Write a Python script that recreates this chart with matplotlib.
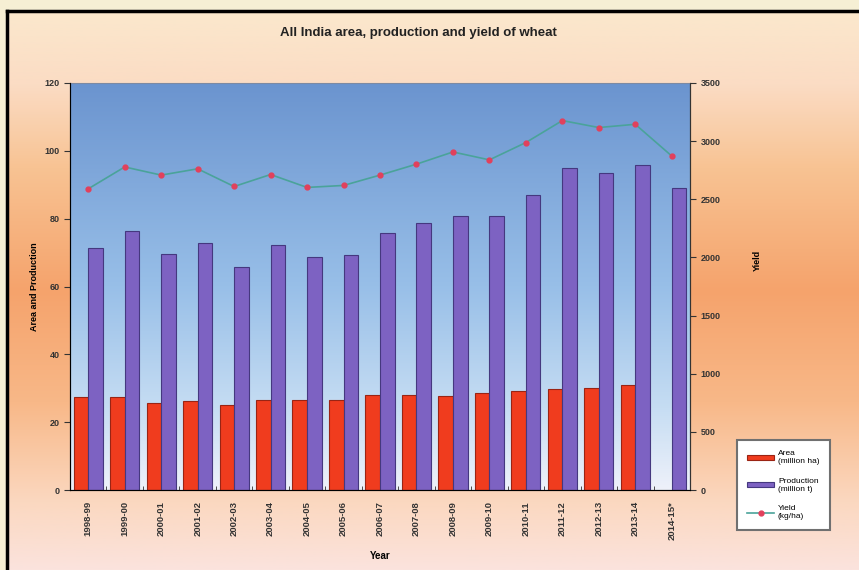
import matplotlib.pyplot as plt
import numpy as np
from matplotlib.colors import LinearSegmentedColormap
from matplotlib.lines import Line2D

plt.rcParams["font.family"] = ["Liberation Sans", "DejaVu Sans"]
plt.rcParams["font.weight"] = "bold"

years = ["1998-99", "1999-00", "2000-01", "2001-02", "2002-03", "2003-04",
         "2004-05", "2005-06", "2006-07", "2007-08", "2008-09", "2009-10",
         "2010-11", "2011-12", "2012-13", "2013-14", "2014-15*"]
area = [27.5, 27.5, 25.7, 26.3, 25.2, 26.6, 26.4, 26.5, 28.0, 28.0,
        27.8, 28.5, 29.1, 29.9, 30.0, 31.0, np.nan]
production = [71.3, 76.4, 69.7, 72.8, 65.8, 72.2, 68.6, 69.4, 75.8, 78.6,
              80.7, 80.8, 86.9, 94.9, 93.5, 95.9, 88.9]
yield_kg = [2590, 2778, 2708, 2762, 2610, 2713, 2602, 2619, 2708, 2802,
            2907, 2839, 2988, 3177, 3117, 3145, 2872]

W, H = 859, 570
fig = plt.figure(figsize=(W / 100, H / 100), dpi=100)
fig.patch.set_facecolor("#f6efd4")

# framed background with a vertical peach/orange gradient
bg = fig.add_axes([7 / W, 0, 1 - 7 / W, 1 - 11 / H], zorder=-2)
bg_cmap = LinearSegmentedColormap.from_list("bg", [
    (0.0, "#fbe3dd"), (0.12, "#fbd8c0"), (0.3, "#f8b888"),
    (0.5, "#f5a36c"), (0.72, "#f8c393"), (0.87, "#fbdcc4"), (1.0, "#fbe8cd")])
bg.imshow(np.linspace(0, 1, 256).reshape(-1, 1), cmap=bg_cmap, aspect="auto",
          origin="lower", extent=[0, 1, 0, 1])
bg.axis("off")
fig.add_artist(Line2D([7 / W, 7 / W], [0, 1 - 11 / H], color="black", lw=2.5,
                      transform=fig.transFigure))
fig.add_artist(Line2D([7 / W, 1], [1 - 11 / H, 1 - 11 / H], color="black", lw=2.5,
                      transform=fig.transFigure))

ax = fig.add_axes([70 / W, 80 / H, 620 / W, 407 / H])
ax.set_facecolor("none")
plot_cmap = LinearSegmentedColormap.from_list("plot", [
    (0.0, "#eef1fa"), (0.2, "#c6ddf3"), (0.5, "#98bfe8"), (1.0, "#6b94cf")])
ax.imshow(np.linspace(0, 1, 256).reshape(-1, 1), cmap=plot_cmap, aspect="auto",
          origin="lower", extent=[0, 1, 0, 1], transform=ax.transAxes, zorder=0)

x = np.arange(len(years))
w = 0.4
ax.bar(x - w / 2, area, w, color="#f03c1e", edgecolor="#9a2414", lw=0.8,
       label="Area\n(million ha)", zorder=2)
ax.bar(x + w / 2, production, w, color="#7d62c2", edgecolor="#45387f", lw=0.8,
       label="Production\n(million t)", zorder=2)

ax.set_xlim(-0.5, len(years) - 0.5)
ax.set_ylim(0, 120)
ax.set_yticks(np.arange(0, 121, 20))
ax.set_xticks(x)
ax.set_xticklabels(years, rotation=90, fontsize=6.8, color="#333333")
ax.set_xticks(np.arange(-0.5, len(years), 1), minor=True)
ax.tick_params(axis="x", which="major", length=0, pad=8)
ax.tick_params(axis="x", which="minor", length=3, direction="in", color="#333333")
ax.tick_params(axis="y", labelsize=6.5, length=4, color="#333333", labelcolor="#333333")
ax.set_ylabel("Area and Production", fontsize=6.5, fontweight="bold", labelpad=4)
ax.set_xlabel("Year", fontsize=7, fontweight="bold", labelpad=8)
for side in ["left", "bottom", "right"]:
    ax.spines[side].set_color("#333333")
ax.spines["top"].set_color("#7d8aa3")

ax2 = ax.twinx()
ax2.plot(x, yield_kg, color="#4aa39a", lw=1.2, marker="o", markersize=3.5,
         markerfacecolor="#e2405c", markeredgecolor="#e2405c",
         label="Yield\n(kg/ha)", zorder=3)
ax2.set_ylim(0, 3500)
ax2.set_yticks(np.arange(0, 3501, 500))
ax2.tick_params(axis="y", labelsize=6.5, length=4, color="#333333", labelcolor="#333333")
ax2.spines["right"].set_color("#333333")
ax2.spines["top"].set_visible(False)

fig.text(757 / W, 1 - 260 / H, "Yield", rotation=90, fontsize=6.5,
         fontweight="bold", ha="center", va="center")
fig.text(418 / W, 1 - 33 / H, "All India area, production and yield of wheat",
         fontsize=9.5, fontweight="bold", ha="center", va="center", color="#222222")

h1, l1 = ax.get_legend_handles_labels()
h2, l2 = ax2.get_legend_handles_labels()
leg = ax2.legend(h1 + h2, l1 + l2, loc="upper left",
                 bbox_to_anchor=(733 / W, 1 - 436 / H), bbox_transform=fig.transFigure,
                 frameon=True, fancybox=False, handlelength=3.2,
                 handleheight=0.5, labelspacing=1.5, borderpad=1.2,
                 handletextpad=0.5, prop={"size": 6, "weight": "normal"})
leg.get_frame().set_edgecolor("#707070")
leg.get_frame().set_linewidth(1.5)
leg.get_frame().set_facecolor("white")
leg.get_frame().set_alpha(1)

fig.savefig("out.png", dpi=100, facecolor=fig.get_facecolor())
